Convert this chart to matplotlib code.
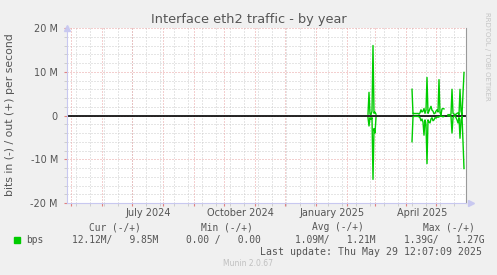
import numpy as np
import pandas as pd
import matplotlib
matplotlib.use("Agg")
import matplotlib.pyplot as plt
from datetime import datetime, timedelta

nan = np.nan

# ---- data (values in Mbit/s) ----
feb_start = "2025-02-22"
feb_out = [0.3, 5.3, 0.3, 0.2, 1.0, 16.0, 0.5, 0.8, 0.3]
feb_in = [-0.5, -2.4, -0.5, -0.9, -0.5, -14.6, -3.0, -4.0, -0.5]

apr_start = "2025-04-07"
apr_out = [6.0, 0.3, 0.5, 0.4, 0.5, 0.4, 0.5, 0.3, 0.6, 1.3,
           0.8, 1.0, 1.6, 0.5, 1.2, 8.7, 0.5, 1.0, 1.6, 2.1,
           1.2, 1.0, 0.4, 0.5, 1.0, 1.3, 0.8, 8.2, 0.6, 0.2,
           1.5, 1.6, 1.5, nan, nan, nan, 0.2, 0.2, 0.2, 0.3,
           6.0, 0.5, 0.3, 0.2, 0.3, 0.5, 0.6, 0.2, 6.0, 1.0,
           0.2, 5.0, 9.85]
apr_in = [-6.0, -0.3, -0.2, -0.2, -0.2, -0.2, -0.2, -0.3, -0.5, -1.2,
          -0.8, -1.5, -4.5, -1.0, -2.0, -11.0, -1.0, -1.5, -1.7, -0.8,
          -0.5, -1.2, -1.0, -0.5, -0.6, -0.3, -0.4, -0.3, -0.2, -0.1,
          -0.2, -0.3, -0.2, nan, nan, nan, -0.1, -0.1, -0.1, -0.2,
          -4.0, -0.5, -0.2, -0.1, -0.5, -1.0, -1.7, -0.5, -5.2, -1.0,
          -0.2, -6.0, -12.12]

y_ticks = [-20, -10, 0, 10, 20]
y_tick_labels = ["-20 M", "-10 M", "0", "10 M", "20 M"]
x_labels = ["July 2024", "October 2024", "January 2025", "April 2025"]
x_label_dates = ["2024-07-17", "2024-10-17", "2025-01-17", "2025-04-17"]

legend_head = ["Cur (-/+)", "Min (-/+)", "Avg (-/+)", "Max (-/+)"]
legend_vals = ["12.12M/   9.85M", "0.00 /   0.00", "1.09M/   1.21M", "1.39G/   1.27G"]

GREEN = "#00cc00"
TXT = "#555555"
W, H = 497, 275

fig = plt.figure(figsize=(W / 100, H / 100), dpi=100, facecolor="#f0f0f0")
L, R, T, B = 67, 466, 28, 203
ax = fig.add_axes([L / W, 1 - B / H, (R - L) / W, (B - T) / H])
ax.set_facecolor("white")

x0 = datetime(2024, 4, 27)
x1 = x0 + timedelta(days=399)
ax.set_xlim(x0, x1)
ax.set_ylim(-20, 20)

# grid
major_x = pd.date_range("2024-05-01", "2025-05-31", freq="MS")
minor_x = pd.date_range("2024-05-06", "2025-05-31", freq="14D")
ax.set_xticks(major_x)
ax.set_xticks(minor_x, minor=True)
ax.set_xticklabels([])
ax.set_yticks(y_ticks)
ax.set_yticklabels(y_tick_labels)
ax.set_yticks(np.arange(-20, 21, 2), minor=True)

dot = (0, (1, 2))
for d in minor_x:
    ax.axvline(d, color="#cccccc", lw=0.72, ls=dot, zorder=0)
for v in np.arange(-18, 20, 2):
    if v % 10:
        ax.axhline(v, color="#cccccc", lw=0.72, ls=dot, zorder=0)
for d in major_x:
    ax.axvline(d, color="#e8a0a0", lw=0.72, ls=dot, zorder=0.5)
for v in [-20, -10, 0, 10, 20]:
    ax.axhline(v, color="#e8a0a0", lw=0.72, ls=dot, zorder=0.5)

ax.tick_params(axis="both", which="major", length=2, color="#e08080",
               labelsize=7, labelcolor=TXT, pad=4.5)
ax.tick_params(axis="both", which="minor", length=2, color="#c8c8c8")

ax.spines["top"].set_visible(False)
ax.spines["left"].set_color("#c8c8f0")
ax.spines["bottom"].set_color("#c8c8f0")
ax.spines["right"].set_color("#999999")
for s in ax.spines.values():
    s.set_linewidth(0.8)

# arrows
ax.plot([0], [1.0], marker="^", color="#c8c8f0", ms=4.5, transform=ax.transAxes,
        clip_on=False, zorder=5)
ax.plot([1.012], [0], marker=">", color="#c8c8f0", ms=4.5, transform=ax.transAxes,
        clip_on=False, zorder=5)

# zero line
ax.axhline(0, color="black", lw=1.2, zorder=2)

# data
feb_x = pd.date_range(feb_start, periods=len(feb_out), freq="D")
apr_x = pd.date_range(apr_start, periods=len(apr_out), freq="D")
for xs, ys in [(feb_x, feb_out), (feb_x, feb_in), (apr_x, apr_out), (apr_x, apr_in)]:
    ax.plot(xs, ys, color=GREEN, lw=1.0, zorder=3)

# x labels
for lab, d in zip(x_labels, x_label_dates):
    ax.text(pd.Timestamp(d), -0.057, lab, transform=ax.get_xaxis_transform(),
            ha="center", va="center", fontsize=7, color=TXT)

# title and labels
fig.text(0.5, 1 - 19 / H, "Interface eth2 traffic - by year", ha="center",
         va="center", fontsize=9.3, color=TXT)
fig.text(10 / W, 1 - 115 / H, "bits in (-) / out (+) per second", rotation=90,
         ha="center", va="center", fontsize=7.8, color=TXT)
fig.text(487 / W, 1 - 56 / H, "RRDTOOL / TOBI OETIKER", rotation=270,
         ha="center", va="center", fontsize=5, color="#c4c4c4")

# legend
mono = "DejaVu Sans Mono"
FS = 6.9
head_x = [89, 201, 312, 423]
val_x = [72.5, 186, 295, 403.5]
for hx, t in zip(head_x, legend_head):
    fig.text(hx / W, 1 - 227.5 / H, t, ha="left", va="center", fontsize=FS,
             family=mono, color=TXT)
fig.patches.append(plt.Rectangle((14 / W, 1 - 243 / H), 6 / W, 6 / H,
                                 transform=fig.transFigure, color=GREEN))
fig.text(26.5 / W, 1 - 240 / H, "bps", ha="left", va="center", fontsize=FS,
         family=mono, color=TXT)
for vx, t in zip(val_x, legend_vals):
    fig.text(vx / W, 1 - 240 / H, t, ha="left", va="center", fontsize=FS,
             family=mono, color=TXT)
fig.text(482.5 / W, 1 - 251.7 / H, "Last update: Thu May 29 12:07:09 2025",
         ha="right", va="center", fontsize=7.15, family=mono, color=TXT)
fig.text(248 / W, 1 - 264 / H, "Munin 2.0.67", ha="center", va="center",
         fontsize=5.5, color="#c0c0c0")

fig.savefig("out.png", dpi=100, facecolor=fig.get_facecolor())
